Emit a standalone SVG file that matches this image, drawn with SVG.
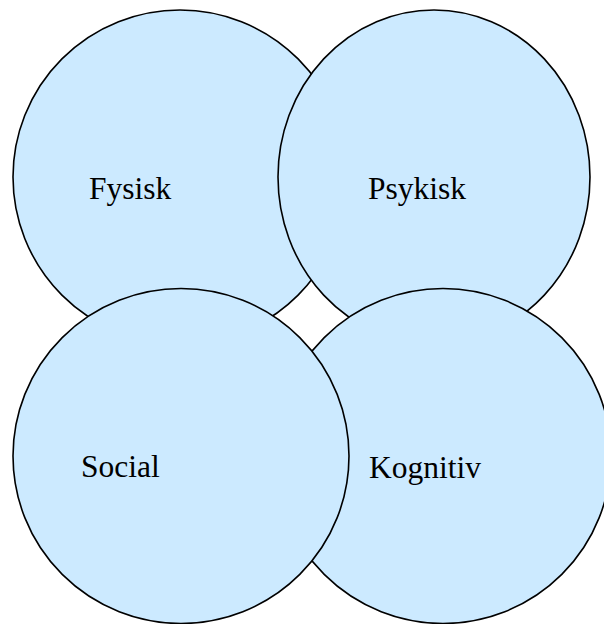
<svg xmlns="http://www.w3.org/2000/svg" width="604" height="624" viewBox="0 0 604 624">
<style>
.c{fill:#cceaff;stroke:#000;stroke-width:1.6}
.t{font-family:"Liberation Serif","Times New Roman",serif;font-size:31.5px;fill:#000}
</style>
<rect width="604" height="624" fill="#fff"/>
<g id="fysisk"><ellipse class="c" cx="180" cy="177" rx="167" ry="167"/><text class="t" x="89" y="199">Fysisk</text></g>
<g id="psykisk"><ellipse class="c" cx="434" cy="177" rx="156" ry="167"/><text class="t" x="368" y="199">Psykisk</text></g>
<g id="kognitiv"><ellipse class="c" cx="443" cy="456" rx="168" ry="167.5"/><text class="t" x="369" y="478">Kognitiv</text></g>
<g id="social"><ellipse class="c" cx="181" cy="456" rx="168" ry="167.5"/><text class="t" x="81" y="477">Social</text></g>
<g id="connectors"/>
</svg>
